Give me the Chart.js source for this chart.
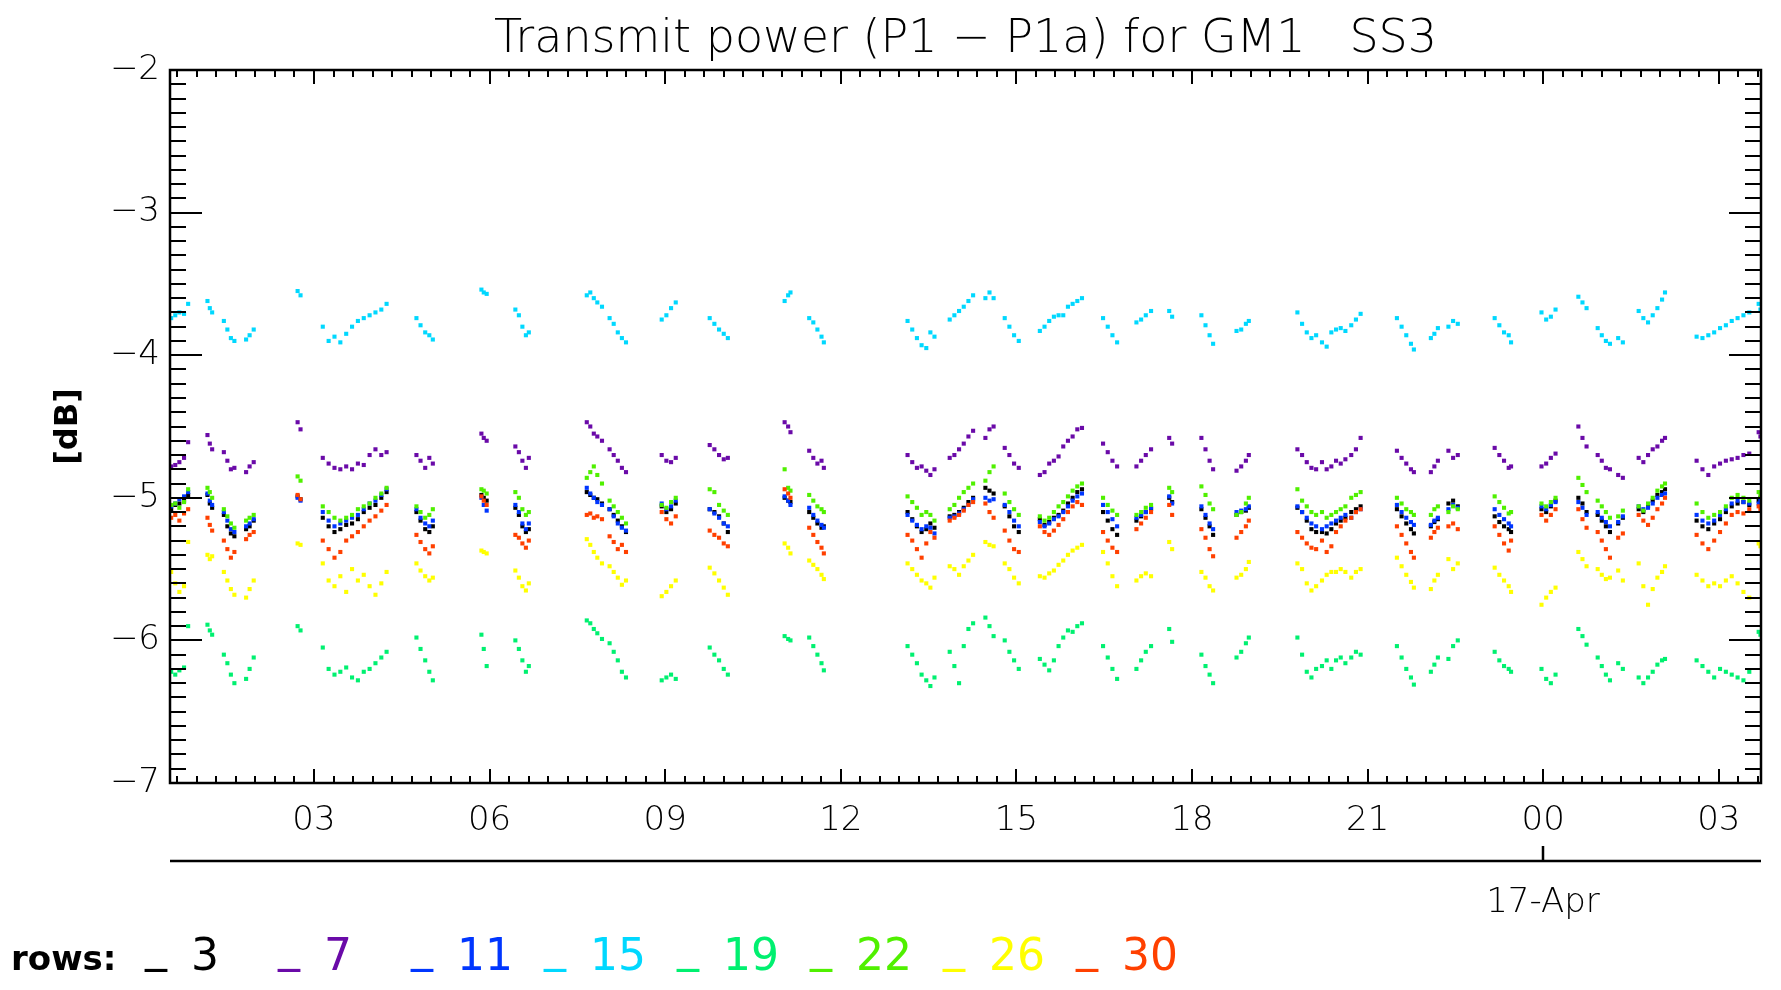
<!DOCTYPE html>
<html>
<head>
<meta charset="utf-8">
<title>Transmit power (P1 - P1a) for GM1 SS3</title>
<script src="https://cdn.jsdelivr.net/npm/chart.js@4.4.1/dist/chart.umd.min.js"></script>
<style>
  html, body { margin: 0; padding: 0; background: #fff; }
  #wrap { width: 1781px; height: 990px; position: relative; }
</style>
</head>
<body>
<div id="wrap"><canvas id="chart"></canvas></div>
<script>
const FONT = 'DejaVu Sans';
const THIN = '200';
const plotTitle = 'Transmit power (P1 \u2212 P1a) for GM1   SS3';

// detector rows and their plot colours
const rowNames = ['3', '7', '11', '15', '19', '22', '26', '30'];
const rowColors = ['#000000', '#6a0aa8', '#0036ff', '#00d8ff', '#00f070', '#50f000', '#ffff00', '#ff4000'];

// axis ticks: hours since 00:00 on 16-Apr, power in dB
const hourTicks = [3, 6, 9, 12, 15, 18, 21, 24, 27];
const hourLabels = ['03', '06', '09', '12', '15', '18', '21', '00', '03'];
const dbTicks = [-7, -6, -5, -4, -3, -2];
const dayMark = { hour: 24, label: '17-Apr' };

// sample times (hours), one line per pass
const hours = [
  0.56, 0.63, 0.70, 0.78, 0.85,
  1.18, 1.22, 1.26, 1.46, 1.52, 1.58, 1.64, 1.84, 1.90, 1.97,
  2.72, 2.77,
  3.15, 3.25, 3.35, 3.45, 3.55, 3.65, 3.75, 3.85, 3.95, 4.05, 4.15, 4.24,
  4.75, 4.82, 4.90, 4.97, 5.03,
  5.86, 5.90, 5.95,
  6.44, 6.50, 6.56, 6.62, 6.67,
  7.66, 7.72, 7.78, 7.84, 7.92, 8.05, 8.12, 8.19, 8.26, 8.33,
  8.94, 9.02, 9.10, 9.18,
  9.76, 9.84, 9.92, 10.00, 10.07,
  11.04, 11.10, 11.14,
  11.46, 11.53, 11.60, 11.67, 11.71,
  13.14, 13.22, 13.30, 13.38, 13.46, 13.53, 13.60,
  13.86, 13.94, 14.02, 14.10, 14.18, 14.26,
  14.47, 14.54, 14.61,
  14.80, 14.88, 14.96, 15.04,
  15.40, 15.48, 15.56, 15.64, 15.72, 15.80, 15.88, 15.96, 16.04, 16.12,
  16.48, 16.56, 16.64, 16.72,
  17.05, 17.13, 17.21, 17.30,
  17.61, 17.66,
  18.16, 18.23, 18.30, 18.36,
  18.76, 18.84, 18.92, 18.97,
  19.80, 19.88, 19.96, 20.04, 20.12, 20.22, 20.30, 20.38, 20.46, 20.54, 20.62, 20.72, 20.80, 20.88,
  21.50, 21.58, 21.66, 21.74, 21.79,
  22.08, 22.14, 22.20,
  22.38, 22.46, 22.54,
  23.17, 23.25, 23.33, 23.41, 23.45,
  23.97, 24.05, 24.13, 24.21,
  24.60, 24.67, 24.74,
  24.93, 25.00, 25.07, 25.14, 25.28, 25.36,
  25.63, 25.71, 25.79, 25.87, 25.95, 26.03, 26.08,
  26.62, 26.72, 26.82, 26.92, 27.02, 27.12, 27.22, 27.32, 27.42, 27.52,
  27.68, 27.71
];

const row3 = [
  -5.08, -5.05, -5.04, -5.02, -4.98,
  -4.98, -5.04, -5.07, -5.12, -5.20, -5.25, -5.27, -5.22, -5.20, -5.16,
  -4.99, -5.01,
  -5.14, -5.20, -5.24, -5.22, -5.19, -5.18, -5.15, -5.10, -5.07, -5.05, -5.00, -4.96,
  -5.10, -5.16, -5.22, -5.24, -5.20,
  -4.98, -5.00, -5.02,
  -5.07, -5.12, -5.20, -5.24, -5.22,
  -4.96, -4.98, -5.00, -5.01, -5.04, -5.08, -5.12, -5.16, -5.20, -5.24,
  -5.06, -5.10, -5.08, -5.04,
  -5.08, -5.10, -5.13, -5.18, -5.24,
  -5.00, -5.02, -5.03,
  -5.10, -5.14, -5.18, -5.21, -5.20,
  -5.10, -5.15, -5.20, -5.24, -5.22, -5.18, -5.21,
  -5.13, -5.12, -5.10, -5.07, -5.03, -5.00,
  -4.93, -4.95, -4.97,
  -5.06, -5.13, -5.20, -5.24,
  -5.15, -5.19, -5.17, -5.14, -5.12, -5.09, -5.04, -5.00, -4.96, -4.94,
  -5.10, -5.16, -5.22, -5.26,
  -5.16, -5.13, -5.10, -5.08,
  -5.00, -5.03,
  -5.08, -5.14, -5.20, -5.26,
  -5.12, -5.10, -5.09, -5.07,
  -5.07, -5.10, -5.16, -5.22, -5.24, -5.24, -5.25, -5.22, -5.18, -5.16, -5.14, -5.10, -5.08, -5.06,
  -5.08, -5.13, -5.18, -5.22, -5.25,
  -5.20, -5.17, -5.15,
  -5.04, -5.02, -5.06,
  -5.13, -5.17, -5.20, -5.22, -5.24,
  -5.08, -5.10, -5.06, -5.02,
  -5.00, -5.04, -5.10,
  -5.12, -5.16, -5.20, -5.24, -5.18, -5.14,
  -5.08, -5.10, -5.06, -5.02, -4.98, -4.96, -4.94,
  -5.16, -5.20, -5.22, -5.18, -5.15, -5.10, -5.06, -5.04, -5.03, -5.05,
  -5.02, -5.00
];

const row7 = [
  -4.78, -4.77, -4.75, -4.72, -4.61,
  -4.56, -4.62, -4.66, -4.68, -4.74, -4.80, -4.79, -4.82, -4.78, -4.75,
  -4.47, -4.52,
  -4.72, -4.76, -4.79, -4.80, -4.78, -4.80, -4.76, -4.77, -4.70, -4.66, -4.70, -4.68,
  -4.70, -4.74, -4.79, -4.72, -4.76,
  -4.55, -4.58, -4.60,
  -4.64, -4.68, -4.74, -4.79, -4.72,
  -4.47, -4.50, -4.55, -4.57, -4.60, -4.66, -4.70, -4.74, -4.79, -4.82,
  -4.70, -4.74, -4.75, -4.72,
  -4.63, -4.66, -4.70, -4.73, -4.72,
  -4.47, -4.50, -4.54,
  -4.67, -4.72, -4.76, -4.74, -4.79,
  -4.70, -4.75, -4.79, -4.78, -4.81, -4.84, -4.80,
  -4.72, -4.70, -4.66, -4.62, -4.57, -4.53,
  -4.58, -4.52, -4.50,
  -4.65, -4.70, -4.76, -4.79,
  -4.84, -4.82, -4.76, -4.74, -4.71, -4.64, -4.60, -4.57, -4.52, -4.51,
  -4.62, -4.68, -4.74, -4.78,
  -4.78, -4.74, -4.70, -4.66,
  -4.58, -4.62,
  -4.58, -4.66, -4.74, -4.80,
  -4.81, -4.78, -4.74, -4.70,
  -4.66, -4.70, -4.75, -4.79, -4.80, -4.75, -4.80, -4.78, -4.74, -4.76, -4.73, -4.70, -4.66, -4.58,
  -4.67, -4.72, -4.76, -4.80, -4.82,
  -4.82, -4.78, -4.74,
  -4.67, -4.72, -4.70,
  -4.65, -4.70, -4.74, -4.79, -4.78,
  -4.78, -4.76, -4.72, -4.69,
  -4.50, -4.58, -4.64,
  -4.70, -4.74, -4.79, -4.80, -4.84, -4.86,
  -4.72, -4.75, -4.70, -4.66, -4.64, -4.60, -4.58,
  -4.74, -4.80, -4.84, -4.78, -4.76, -4.74, -4.73, -4.72, -4.70, -4.69,
  -4.54, -4.57
];

const row11 = [
  -5.06, -5.04, -5.01, -4.99, -4.96,
  -4.97, -5.02, -5.05, -5.10, -5.16, -5.22, -5.24, -5.20, -5.18, -5.15,
  -5.00, -5.02,
  -5.10, -5.16, -5.20, -5.18, -5.16, -5.14, -5.12, -5.08, -5.04, -5.02, -4.98, -4.94,
  -5.08, -5.14, -5.18, -5.20, -5.16,
  -5.00, -5.05, -5.09,
  -5.05, -5.10, -5.18, -5.22, -5.18,
  -4.93, -4.97, -5.00, -5.03, -5.05, -5.08, -5.13, -5.18, -5.21, -5.23,
  -5.04, -5.08, -5.06, -5.02,
  -5.08, -5.11, -5.14, -5.18, -5.20,
  -4.99, -5.02, -5.05,
  -5.07, -5.12, -5.16, -5.19, -5.21,
  -5.12, -5.16, -5.19, -5.22, -5.20, -5.21, -5.25,
  -5.14, -5.13, -5.11, -5.08, -5.05, -5.01,
  -5.00, -5.02, -5.01,
  -5.05, -5.10, -5.16, -5.20,
  -5.17, -5.20, -5.18, -5.15, -5.13, -5.10, -5.06, -5.02, -4.99, -4.97,
  -5.05, -5.10, -5.15, -5.20,
  -5.14, -5.12, -5.10, -5.07,
  -4.99, -5.04,
  -5.06, -5.12, -5.18, -5.22,
  -5.10, -5.09, -5.08, -5.06,
  -5.06, -5.10, -5.14, -5.18, -5.20, -5.22, -5.20, -5.18, -5.16, -5.14, -5.12, -5.14, -5.10, -5.08,
  -5.05, -5.10, -5.14, -5.17, -5.19,
  -5.19, -5.16, -5.14,
  -5.08, -5.05, -5.07,
  -5.08, -5.12, -5.15, -5.18, -5.20,
  -5.06, -5.08, -5.05, -5.03,
  -5.03, -5.07, -5.12,
  -5.10, -5.14, -5.17, -5.20, -5.17, -5.13,
  -5.06, -5.08, -5.07, -5.04, -5.00, -4.98, -4.97,
  -5.12, -5.16, -5.18, -5.16, -5.12, -5.08, -5.04, -5.02, -5.03, -5.04,
  -5.04, -5.02
];

const row15 = [
  -3.74, -3.72, -3.70, -3.71, -3.64,
  -3.62, -3.67, -3.70, -3.76, -3.82, -3.88, -3.90, -3.89, -3.86, -3.82,
  -3.55, -3.58,
  -3.80, -3.90, -3.87, -3.91, -3.85, -3.80, -3.76, -3.74, -3.72, -3.70, -3.68, -3.64,
  -3.74, -3.79, -3.84, -3.86, -3.89,
  -3.54, -3.56, -3.57,
  -3.68, -3.72, -3.80, -3.86, -3.84,
  -3.58, -3.56, -3.60, -3.63, -3.66, -3.74, -3.78, -3.84, -3.88, -3.91,
  -3.75, -3.72, -3.67, -3.63,
  -3.74, -3.78, -3.82, -3.85, -3.88,
  -3.62, -3.58, -3.56,
  -3.74, -3.77, -3.82, -3.87, -3.91,
  -3.76, -3.82, -3.88, -3.93, -3.95, -3.84, -3.87,
  -3.75, -3.72, -3.69, -3.66, -3.62, -3.58,
  -3.60, -3.56, -3.60,
  -3.74, -3.80, -3.86, -3.90,
  -3.83, -3.80, -3.76, -3.73, -3.72, -3.72, -3.66, -3.64, -3.62, -3.60,
  -3.74, -3.80, -3.86, -3.91,
  -3.77, -3.75, -3.72, -3.69,
  -3.69, -3.73,
  -3.72, -3.79, -3.86, -3.92,
  -3.83, -3.82, -3.78, -3.76,
  -3.70, -3.78, -3.84, -3.88, -3.86, -3.91, -3.94, -3.84, -3.82, -3.81, -3.83, -3.79, -3.75, -3.71,
  -3.74, -3.80, -3.86, -3.92, -3.96,
  -3.88, -3.85, -3.81,
  -3.80, -3.76, -3.78,
  -3.74, -3.79, -3.84, -3.86, -3.91,
  -3.70, -3.75, -3.73, -3.68,
  -3.59, -3.63, -3.67,
  -3.81, -3.86, -3.90, -3.92, -3.88, -3.91,
  -3.69, -3.74, -3.77, -3.72, -3.67, -3.61, -3.56,
  -3.87, -3.88, -3.86, -3.84, -3.81, -3.79, -3.76, -3.74, -3.72, -3.70,
  -3.64, -3.68
];

const row19 = [
  -6.22, -6.24, -6.21, -6.19, -5.90,
  -5.89, -5.93, -5.96, -6.10, -6.16, -6.24, -6.30, -6.27, -6.20, -6.12,
  -5.90, -5.93,
  -6.05, -6.20, -6.24, -6.22, -6.19, -6.26, -6.28, -6.22, -6.20, -6.16, -6.12, -6.08,
  -5.98, -6.06, -6.14, -6.22, -6.28,
  -5.96, -6.06, -6.18,
  -6.00, -6.06, -6.14, -6.22, -6.18,
  -5.86, -5.88, -5.92, -5.95, -5.99, -6.02, -6.08, -6.14, -6.22, -6.26,
  -6.28, -6.26, -6.24, -6.27,
  -6.05, -6.10, -6.14, -6.20, -6.24,
  -5.97, -5.99, -6.00,
  -5.98, -6.04, -6.10, -6.16, -6.21,
  -6.04, -6.10, -6.16, -6.24, -6.28, -6.32, -6.26,
  -6.08, -6.18, -6.30, -6.04, -5.92, -5.88,
  -5.84, -5.90, -5.97,
  -6.00, -6.08, -6.14, -6.20,
  -6.13, -6.17, -6.21, -6.14, -6.04, -5.98, -5.93, -5.94, -5.90, -5.88,
  -6.04, -6.12, -6.20, -6.27,
  -6.20, -6.14, -6.08, -6.04,
  -5.92, -6.01,
  -6.10, -6.18, -6.24, -6.30,
  -6.12, -6.08, -6.02, -5.98,
  -5.98, -6.10, -6.22, -6.26, -6.20, -6.18, -6.14, -6.20, -6.14, -6.12, -6.16, -6.12, -6.08, -6.10,
  -6.04, -6.12, -6.20, -6.26, -6.31,
  -6.22, -6.17, -6.12,
  -6.13, -6.04, -6.00,
  -6.08, -6.14, -6.18, -6.20, -6.22,
  -6.20, -6.27, -6.30, -6.24,
  -5.92, -5.97, -6.03,
  -6.12, -6.18, -6.24, -6.28, -6.16, -6.20,
  -6.26, -6.30, -6.26, -6.22, -6.17, -6.14, -6.13,
  -6.14, -6.18, -6.22, -6.26, -6.20, -6.22, -6.24, -6.26, -6.28, -6.22,
  -5.94, -5.96
];

const row22 = [
  -5.05, -5.04, -5.07, -5.03, -4.94,
  -4.93, -4.96, -5.00, -5.08, -5.13, -5.18, -5.21, -5.16, -5.14, -5.12,
  -4.85, -4.88,
  -5.06, -5.10, -5.14, -5.16, -5.14, -5.12, -5.08, -5.06, -5.04, -5.00, -4.97, -4.93,
  -5.06, -5.10, -5.14, -5.12, -5.08,
  -4.94, -4.95, -4.97,
  -4.96, -5.00, -5.08, -5.12, -5.10,
  -4.86, -4.82, -4.78, -4.84, -4.90, -5.02, -5.06, -5.10, -5.14, -5.18,
  -5.05, -5.07, -5.03, -5.00,
  -4.94, -4.96, -5.05, -5.09, -5.12,
  -4.80, -4.93, -4.95,
  -4.98, -5.02, -5.06, -5.08, -5.10,
  -4.99, -5.03, -5.07, -5.12, -5.10, -5.12, -5.16,
  -5.08, -5.05, -5.00, -4.96, -4.93, -4.90,
  -4.88, -4.82, -4.78,
  -4.97, -5.03, -5.08, -5.12,
  -5.13, -5.16, -5.14, -5.10, -5.06, -5.03, -4.99, -4.95, -4.92, -4.90,
  -5.00, -5.05, -5.09, -5.12,
  -5.12, -5.10, -5.07, -5.05,
  -4.93, -4.96,
  -4.92, -4.98, -5.04, -5.08,
  -5.12, -5.10, -5.04, -5.00,
  -4.94, -5.02, -5.06, -5.10, -5.12, -5.10, -5.14, -5.12, -5.10, -5.08, -5.06, -5.00, -4.98, -4.96,
  -5.00, -5.04, -5.08, -5.10, -5.12,
  -5.12, -5.08, -5.06,
  -5.10, -5.06, -5.08,
  -4.99, -5.03, -5.07, -5.11, -5.10,
  -5.04, -5.06, -5.03, -5.00,
  -4.86, -4.91, -4.96,
  -5.02, -5.06, -5.10, -5.14, -5.13, -5.09,
  -5.06, -5.09, -5.04, -5.00, -4.95, -4.92, -4.90,
  -5.04, -5.10, -5.14, -5.12, -5.10, -5.06, -5.00, -4.98, -5.00, -5.02,
  -4.96, -4.98
];

const row26 = [
  -5.52, -5.60, -5.66, -5.62, -5.31,
  -5.40, -5.43, -5.41, -5.52, -5.58, -5.64, -5.68, -5.70, -5.64, -5.58,
  -5.32, -5.33,
  -5.46, -5.58, -5.62, -5.55, -5.66, -5.50, -5.58, -5.54, -5.62, -5.68, -5.60, -5.52,
  -5.46, -5.51, -5.55, -5.58, -5.56,
  -5.37, -5.38, -5.39,
  -5.51, -5.56, -5.62, -5.65, -5.60,
  -5.29, -5.33, -5.38, -5.42, -5.46, -5.48, -5.52, -5.56, -5.61, -5.58,
  -5.69, -5.66, -5.62, -5.58,
  -5.49, -5.53, -5.58, -5.63, -5.68,
  -5.32, -5.35, -5.39,
  -5.44, -5.47, -5.50, -5.54, -5.57,
  -5.46, -5.50, -5.54, -5.58, -5.60, -5.63, -5.56,
  -5.48, -5.50, -5.54, -5.48, -5.44, -5.40,
  -5.31, -5.33, -5.34,
  -5.46, -5.50, -5.56, -5.60,
  -5.55, -5.56, -5.53, -5.51, -5.47, -5.44, -5.40, -5.37, -5.35, -5.33,
  -5.38, -5.46, -5.55, -5.62,
  -5.58, -5.55, -5.53, -5.55,
  -5.31, -5.36,
  -5.52, -5.56, -5.62, -5.65,
  -5.56, -5.54, -5.50, -5.45,
  -5.46, -5.50, -5.60, -5.65, -5.62, -5.58, -5.54, -5.52, -5.52, -5.50, -5.52, -5.56, -5.52, -5.50,
  -5.42, -5.48, -5.54, -5.59, -5.63,
  -5.64, -5.58, -5.54,
  -5.43, -5.50, -5.46,
  -5.49, -5.54, -5.58, -5.62, -5.66,
  -5.75, -5.70, -5.66, -5.63,
  -5.38, -5.43, -5.48,
  -5.50, -5.54, -5.57, -5.56, -5.51, -5.58,
  -5.46, -5.62, -5.75, -5.64, -5.56, -5.52, -5.48,
  -5.54, -5.58, -5.62, -5.60, -5.62, -5.58, -5.55, -5.60, -5.66, -5.70,
  -5.32, -5.34
];

const row30 = [
  -5.14, -5.12, -5.16, -5.11, -5.08,
  -5.14, -5.19, -5.23, -5.30, -5.36, -5.42, -5.38, -5.29, -5.26, -5.24,
  -4.98, -5.01,
  -5.30, -5.36, -5.42, -5.38, -5.30, -5.27, -5.24, -5.20, -5.16, -5.13, -5.09, -5.05,
  -5.26, -5.31, -5.36, -5.39, -5.34,
  -4.99, -5.02, -5.05,
  -5.26, -5.28, -5.32, -5.35, -5.30,
  -5.12, -5.11, -5.14, -5.13, -5.15, -5.27, -5.31, -5.36, -5.33, -5.38,
  -5.10, -5.15, -5.18, -5.13,
  -5.23, -5.26, -5.28, -5.32, -5.34,
  -4.94, -4.97, -5.00,
  -5.21, -5.26, -5.31, -5.35, -5.39,
  -5.26, -5.30, -5.36, -5.42, -5.32, -5.24, -5.28,
  -5.16, -5.14, -5.12, -5.09, -5.05, -5.03,
  -5.04, -5.10, -5.14,
  -5.23, -5.30, -5.36, -5.38,
  -5.20, -5.24, -5.26, -5.23, -5.19, -5.15, -5.10, -5.06, -5.03, -5.05,
  -5.24, -5.30, -5.35, -5.38,
  -5.22, -5.18, -5.14, -5.10,
  -5.05, -5.12,
  -5.22, -5.28, -5.36, -5.41,
  -5.28, -5.24, -5.20, -5.16,
  -5.24, -5.28, -5.32, -5.35, -5.36, -5.30, -5.38, -5.34, -5.24, -5.20, -5.16, -5.14, -5.10, -5.08,
  -5.20, -5.26, -5.32, -5.38, -5.42,
  -5.28, -5.24, -5.21,
  -5.20, -5.18, -5.22,
  -5.20, -5.26, -5.32, -5.37, -5.30,
  -5.12, -5.16, -5.12, -5.08,
  -5.08, -5.15, -5.21,
  -5.24, -5.30, -5.36, -5.42, -5.28, -5.25,
  -5.12, -5.16, -5.19, -5.14, -5.08, -5.04, -5.00,
  -5.26, -5.32, -5.36, -5.30, -5.24, -5.18, -5.12, -5.10, -5.11, -5.08,
  -5.06, -5.08
];

const rowValues = [row3, row7, row11, row15, row19, row22, row26, row30];

// box, inward tick marks, date axis, title and the row key
const idlFrame = {
  id: 'idlFrame',
  afterDraw(chart) {
    const { ctx, chartArea: a, scales: { x, y } } = chart;
    ctx.save();
    ctx.strokeStyle = '#000';
    ctx.fillStyle = '#000';

    // minor ticks every 20 min and 0.1 dB, major on labelled values
    ctx.lineWidth = 2;
    ctx.beginPath();
    for (let k = Math.ceil(x.min * 3); k <= Math.floor(x.max * 3); k++) {
      const px = Math.round(x.getPixelForValue(k / 3));
      const len = k % 9 === 0 ? 14 : 7;
      ctx.moveTo(px, a.bottom); ctx.lineTo(px, a.bottom - len);
      ctx.moveTo(px, a.top); ctx.lineTo(px, a.top + len);
    }
    for (let k = Math.round(y.min * 10); k <= Math.round(y.max * 10); k++) {
      const py = Math.round(y.getPixelForValue(k / 10));
      const len = k % 10 === 0 ? 32 : 16;
      ctx.moveTo(a.left, py); ctx.lineTo(a.left + len, py);
      ctx.moveTo(a.right, py); ctx.lineTo(a.right - len, py);
    }
    ctx.stroke();
    ctx.lineWidth = 2.5;
    ctx.strokeRect(a.left, a.top, a.right - a.left, a.bottom - a.top);

    // second time axis carrying the date
    const dy = a.bottom + 78;
    const dx = Math.round(x.getPixelForValue(dayMark.hour));
    ctx.beginPath();
    ctx.moveTo(a.left, dy); ctx.lineTo(a.right, dy);
    ctx.moveTo(dx, dy); ctx.lineTo(dx, dy - 15);
    ctx.stroke();
    ctx.textAlign = 'center';
    ctx.textBaseline = 'alphabetic';
    ctx.font = `${THIN} 34px '${FONT}'`;
    ctx.fillText(dayMark.label, dx, dy + 51);

    ctx.font = `${THIN} 46px '${FONT}'`;
    ctx.fillText(plotTitle, (a.left + a.right) / 2, 52);

    // row key along the bottom
    ctx.textAlign = 'left';
    ctx.font = `bold 34px '${FONT}'`;
    ctx.fillText('rows:', 11, 970);
    ctx.font = `44px '${FONT}'`;
    chart.data.datasets.forEach((ds, i) => {
      const lx = 145 + i * 133;
      ctx.fillStyle = ds.backgroundColor;
      ctx.fillText('_', lx, 961);
      ctx.fillText(ds.label, lx + 46, 970);
    });
    ctx.restore();
  }
};

new Chart(document.getElementById('chart'), {
  type: 'scatter',
  data: {
    datasets: rowNames.map((name, i) => ({
      label: name,
      data: hours.map((h, j) => ({ x: h, y: rowValues[i][j] })),
      backgroundColor: rowColors[i],
      borderColor: rowColors[i],
      borderWidth: 0,
      pointStyle: 'rect',
      pointRadius: 2.9,
      pointHoverRadius: 2.9,
      order: rowNames.length - 1 - i
    }))
  },
  options: {
    responsive: true,
    maintainAspectRatio: false,
    animation: false,
    events: [],
    layout: { padding: { left: 0, top: 70, right: 20, bottom: 0 } },
    plugins: {
      legend: { display: false },
      title: { display: false },
      tooltip: { enabled: false }
    },
    scales: {
      x: {
        type: 'linear',
        min: 0.54,
        max: 27.72,
        afterBuildTicks: s => { s.ticks = hourTicks.map(v => ({ value: v })); },
        afterFit: s => { s.height = 207; },
        grid: { display: false, drawTicks: false },
        border: { display: false },
        ticks: {
          autoSkip: false,
          maxRotation: 0,
          padding: 18,
          color: '#000',
          font: { family: FONT, size: 34, weight: THIN },
          callback: (v, i) => hourLabels[i]
        }
      },
      y: {
        min: -7,
        max: -2,
        afterBuildTicks: s => { s.ticks = dbTicks.map(v => ({ value: v })); },
        afterFit: s => { s.width = 170; },
        grid: { display: false, drawTicks: false },
        border: { display: false },
        ticks: {
          padding: 10,
          color: '#000',
          font: { family: FONT, size: 34, weight: THIN },
          callback: v => (v < 0 ? '\u2212' : '') + Math.abs(v)
        },
        title: {
          display: true,
          text: '[dB]',
          color: '#000',
          font: { family: FONT, size: 32, weight: 'bold' },
          padding: { top: 49, bottom: 0 }
        }
      }
    }
  },
  plugins: [idlFrame]
});
</script>
</body>
</html>
